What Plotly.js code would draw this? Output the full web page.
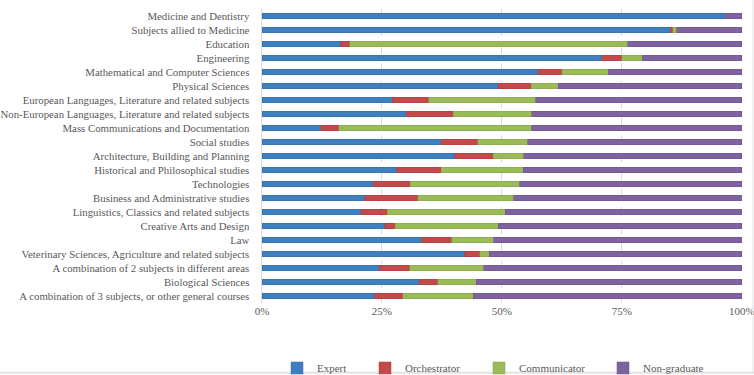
<!DOCTYPE html>
<html><head><meta charset="utf-8">
<script src="https://cdn.plot.ly/plotly-3.0.1.min.js"></script>
<style>body{margin:0;padding:0;background:#fff}#chart{width:754px;height:375px}</style>
</head><body><div id="chart"></div>
<script>
const categories = [
  "Medicine and Dentistry",
  "Subjects allied to Medicine",
  "Education",
  "Engineering",
  "Mathematical and Computer Sciences",
  "Physical Sciences",
  "European Languages, Literature and related subjects",
  "Non-European Languages, Literature and related subjects",
  "Mass Communications and Documentation",
  "Social studies",
  "Architecture, Building and Planning",
  "Historical and Philosophical studies",
  "Technologies",
  "Business and Administrative studies",
  "Linguistics, Classics and related subjects",
  "Creative Arts and Design",
  "Law",
  "Veterinary Sciences, Agriculture and related subjects",
  "A combination of 2 subjects in different areas",
  "Biological Sciences",
  "A combination of 3 subjects, or other general courses"
];
const expert       = [96.3, 85.1, 16.4, 70.8, 57.6, 49.2, 27.1, 30.1, 12.2, 37.4, 40.2, 28.1, 23.2, 21.4, 20.7, 25.6, 33.3, 42.3, 24.4, 32.8, 23.5];
const orchestrator = [0.0, 0.5, 1.9, 4.2, 4.9, 6.9, 7.7, 9.8, 3.8, 7.6, 8.0, 9.3, 7.7, 11.1, 5.4, 2.2, 6.2, 3.1, 6.4, 3.8, 5.8];
const communicator = [0.0, 0.9, 57.9, 4.3, 9.7, 5.6, 22.3, 16.3, 40.2, 10.4, 6.4, 17.1, 22.8, 20.0, 24.6, 21.4, 8.8, 2.0, 15.4, 8.1, 14.7];
const nongraduate  = [3.7, 13.5, 23.8, 20.7, 27.8, 38.3, 42.9, 43.8, 43.9, 44.6, 45.4, 45.5, 46.3, 47.6, 49.4, 50.8, 51.8, 52.6, 53.8, 55.3, 56.0];
const seriesNames = ["Expert", "Orchestrator", "Communicator", "Non-graduate"];
const xTickVals = [0, 25, 50, 75, 100];
const xTickText = ["0%", "25%", "50%", "75%", "100%"];

const colors = ["#3d7fbf", "#c4494a", "#9bbb59", "#7f62a0"];
const lines = ["#2f6fae", "#a83c3c", "#86a548", "#6b528a"];
const vals = [expert, orchestrator, communicator, nongraduate];
const fam = "'Liberation Serif', 'DejaVu Serif', serif";
const font = {family: fam, size: 10.8, color: "#595959"};
const tickFont = {family: fam, size: 11, color: "#595959"};

const legendIds = ["legend", "legend2", "legend3", "legend4"];
const legendX = [277, 365, 479, 603];

const traces = seriesNames.map((n, i) => ({
  type: "bar", orientation: "h", name: n,
  x: vals[i], y: categories,
  marker: {color: colors[i], line: {color: lines[i], width: 0.5}},
  legend: legendIds[i],
  hoverinfo: "x+y+name"
}));

const layout = {
  width: 754, height: 375,
  margin: {l: 262, r: 12, t: 9, b: 72, autoexpand: false},
  barmode: "stack", bargap: 0.6,
  paper_bgcolor: "#fff", plot_bgcolor: "#fff",
  font: font,
  xaxis: {
    range: [0, 100.05], tickvals: xTickVals, ticktext: xTickText,
    showgrid: true, gridcolor: "#d9d9d9", griddash: "dash", gridwidth: 1,
    zeroline: false, showline: false, ticks: "", tickfont: tickFont, fixedrange: true,
    ticklabeloverflow: "allow"
  },
  yaxis: {
    type: "category", autorange: "reversed", tickmode: "linear", dtick: 1,
    showline: true, linecolor: "#d9d9d9", linewidth: 1.5,
    ticks: "outside", ticklen: 9, tickcolor: "rgba(0,0,0,0)",
    showgrid: false, tickfont: font, automargin: false, fixedrange: true
  },
  showlegend: true,
  shapes: [
    {type: "line", xref: "paper", yref: "paper", x0: -0.6, x1: 1.03, y0: -0.2375, y1: -0.2375, line: {color: "#e3e3e3", width: 2}},
    {type: "line", xref: "paper", yref: "paper", x0: 1.0229, x1: 1.0229, y0: -0.24, y1: 1.04, line: {color: "#e3e3e3", width: 1}}
  ]
};
legendIds.forEach((id, i) => {
  layout[id] = {
    orientation: "h", xref: "container", yref: "container",
    x: legendX[i] / 754, xanchor: "left", y: 7 / 375, yanchor: "middle",
    font: tickFont, itemwidth: 30, bgcolor: "rgba(0,0,0,0)"
  };
});
Plotly.newPlot("chart", traces, layout, {displayModeBar: false, staticPlot: true});
</script></body></html>
